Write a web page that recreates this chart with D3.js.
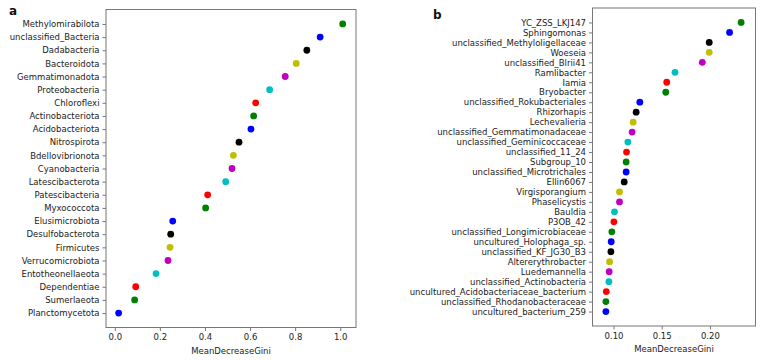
<!DOCTYPE html>
<html>
<head>
<meta charset="utf-8">
<script src="https://cdn.jsdelivr.net/npm/d3@7"></script>
<style>
  body { margin: 0; background: #fff; }
  svg { display: block; font-family: "DejaVu Sans", sans-serif; }
</style>
</head>
<body>
<svg id="chart" width="764" height="360"></svg>
<script>
// Panel a: phyla (top to bottom)
const phylaNames = [
    'Methylomirabilota', 'unclassified_Bacteria', 'Dadabacteria', 'Bacteroidota',
    'Gemmatimonadota', 'Proteobacteria', 'Chloroflexi', 'Actinobacteriota',
    'Acidobacteriota', 'Nitrospirota', 'Bdellovibrionota', 'Cyanobacteria',
    'Latescibacterota', 'Patescibacteria', 'Myxococcota', 'Elusimicrobiota',
    'Desulfobacterota', 'Firmicutes', 'Verrucomicrobiota', 'Entotheonellaeota',
    'Dependentiae', 'Sumerlaeota', 'Planctomycetota'
];
const phylaGini = [
    1.011, 0.911, 0.852, 0.805, 0.756, 0.687, 0.625, 0.616, 0.604, 0.551,
    0.526, 0.520, 0.492, 0.412, 0.403, 0.257, 0.248, 0.245, 0.236, 0.183,
    0.093, 0.088, 0.017
];
const ticksA = [0.0, 0.2, 0.4, 0.6, 0.8, 1.0];

// Panel b: genera (top to bottom)
const genusNames = [
    'YC_ZSS_LKJ147', 'Sphingomonas', 'unclassified_Methyloligellaceae', 'Woeseia',
    'unclassified_Blrii41', 'Ramlibacter', 'Iamia', 'Bryobacter',
    'unclassified_Rokubacteriales', 'Rhizorhapis', 'Lechevalieria',
    'unclassified_Gemmatimonadaceae', 'unclassified_Geminicoccaceae',
    'unclassified_11_24', 'Subgroup_10', 'unclassified_Microtrichales', 'Ellin6067',
    'Virgisporangium', 'Phaselicystis', 'Bauldia', 'P3OB_42',
    'unclassified_Longimicrobiaceae', 'uncultured_Holophaga_sp.',
    'unclassified_KF_JG30_B3', 'Altererythrobacter', 'Luedemannella',
    'unclassified_Actinobacteria', 'uncultured_Acidobacteriaceae_bacterium',
    'unclassified_Rhodanobacteraceae', 'uncultured_bacterium_259'
];
const genusGini = [
    0.2324, 0.2204, 0.1993, 0.1993, 0.1921, 0.1638, 0.1552, 0.1542, 0.1273, 0.1235,
    0.1204, 0.1193, 0.1149, 0.1135, 0.1131, 0.1131, 0.1111, 0.1062, 0.1062, 0.1010,
    0.1004, 0.0983, 0.0976, 0.0973, 0.0959, 0.0955, 0.0952, 0.0925, 0.0921, 0.0921
];
const ticksB = [0.10, 0.15, 0.20];

// matplotlib single-letter colour cycle, counted from the bottom row
const colorCycle = ['#0000ff', '#008000', '#ff0000', '#00bfbf', '#bf00bf', '#bfbf00', '#000000'];

const svg = d3.select('#chart');
const fontFamily = '"DejaVu Sans", sans-serif';

function drawPanel(opts) {
    const { names, values, ticks, box, xDomain, fmt, letter, letterPos } = opts;
    const n = names.length;

    const x = d3.scaleLinear().domain(xDomain).range([box.left, box.right]);
    // matplotlib style 5% margin around row indices
    const pad = (n - 1) * 0.05;
    const y = d3.scaleLinear().domain([-pad, n - 1 + pad]).range([box.top, box.bottom]);

    const g = svg.append('g');

    // y axis (category labels)
    g.append('g')
        .attr('transform', `translate(${box.left},0)`)
        .call(d3.axisLeft(y)
            .tickValues(d3.range(n))
            .tickFormat(i => names[i])
            .tickSize(3.5)
            .tickPadding(3))
        .call(a => a.select('.domain').remove());

    // x axis
    g.append('g')
        .attr('transform', `translate(0,${box.bottom})`)
        .call(d3.axisBottom(x)
            .tickValues(ticks)
            .tickFormat(fmt)
            .tickSize(3.5)
            .tickPadding(3))
        .call(a => a.select('.domain').remove());

    g.selectAll('.tick line').attr('stroke', '#555').attr('stroke-width', 0.8);
    g.selectAll('.tick text')
        .attr('fill', '#222')
        .style('font-family', fontFamily)
        .style('font-size', '8.5px');

    // frame
    g.append('rect')
        .attr('x', box.left)
        .attr('y', box.top)
        .attr('width', box.right - box.left)
        .attr('height', box.bottom - box.top)
        .attr('fill', 'none')
        .attr('stroke', '#777')
        .attr('stroke-width', 1);

    // dots
    g.selectAll('circle.dot')
        .data(values)
        .enter()
        .append('circle')
        .attr('class', 'dot')
        .attr('cx', d => x(d))
        .attr('cy', (d, i) => y(i))
        .attr('r', 3.4)
        .attr('fill', (d, i) => colorCycle[(n - 1 - i) % colorCycle.length]);

    // x label
    g.append('text')
        .attr('x', (box.left + box.right) / 2)
        .attr('y', box.bottom + 26)
        .attr('text-anchor', 'middle')
        .attr('fill', '#222')
        .style('font-family', fontFamily)
        .style('font-size', '8.5px')
        .text('MeanDecreaseGini');

    // panel letter
    svg.append('text')
        .attr('x', letterPos[0])
        .attr('y', letterPos[1])
        .attr('font-weight', 'bold')
        .style('font-family', fontFamily)
        .style('font-size', '12px')
        .attr('fill', '#111')
        .text(letter);
}

drawPanel({
    names: phylaNames,
    values: phylaGini,
    ticks: ticksA,
    box: { left: 106, right: 356, top: 9.5, bottom: 327.5 },
    xDomain: [-0.039, 1.070],
    fmt: d3.format('.1f'),
    letter: 'a',
    letterPos: [9, 15]
});

drawPanel({
    names: genusNames,
    values: genusGini,
    ticks: ticksB,
    box: { left: 592.5, right: 755.5, top: 8, bottom: 326 },
    xDomain: [0.0782, 0.2473],
    fmt: d3.format('.2f'),
    letter: 'b',
    letterPos: [433, 18.5]
});
</script>
</body>
</html>
